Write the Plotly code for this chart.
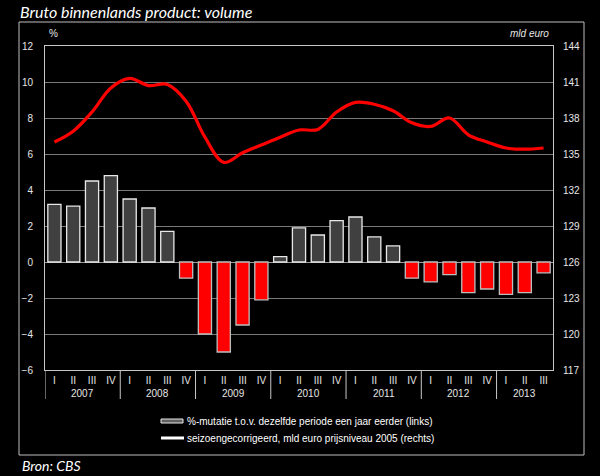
import plotly.graph_objects as go

# ---------------- data ----------------
years = ["2007", "2008", "2009", "2010", "2011", "2012", "2013"]
quarters = ["I", "II", "III", "IV"] * 6 + ["I", "II", "III"]
pct_change = [3.2, 3.1, 4.5, 4.8, 3.5, 3.0, 1.7, -0.9,
              -4.0, -5.0, -3.5, -2.1, 0.3, 1.9, 1.5, 2.3,
              2.5, 1.4, 0.9, -0.9, -1.1, -0.7, -1.7, -1.5,
              -1.8, -1.7, -0.6]
volume_bn = [136.0, 136.9, 138.5, 140.5, 141.3, 140.7, 140.8, 139.4,
             136.4, 134.3, 135.1, 135.75, 136.4, 137.0, 137.05, 138.5,
             139.3, 139.15, 138.6, 137.6, 137.3, 138.0, 136.6, 136.0,
             135.5, 135.4, 135.5]
left_ticks = [-6, -4, -2, 0, 2, 4, 6, 8, 10, 12]
right_ticks = [117, 120, 123, 126, 129, 132, 135, 138, 141, 144]

W, H = 600, 476
L, R, T, B = 45, 47, 46, 106
PW, PH = W - L - R, H - T - B


def px(x):
    return (x - L) / PW


def py(y):
    return (H - B - y) / PH


idx = list(range(len(pct_change)))
bar_colors = ["#404040" if v >= 0 else "#ff0000" for v in pct_change]
bar_lines = ["#e8e8e8" if v >= 0 else "#bdbdbd" for v in pct_change]

fig = go.Figure()
fig.add_trace(go.Bar(
    x=idx, y=pct_change, width=0.7,
    marker=dict(color=bar_colors, line=dict(color=bar_lines, width=1.3)),
    showlegend=False, yaxis="y",
))
fig.add_trace(go.Scatter(
    x=idx, y=volume_bn, mode="lines",
    line=dict(color="#ff0000", width=3.2, shape="spline", smoothing=1.0),
    showlegend=False, yaxis="y2",
))

tickfont = dict(family="Arial", size=10, color="#e6e6e6")

fig.update_layout(
    width=W, height=H,
    margin=dict(l=L, r=R, t=T, b=B),
    paper_bgcolor="black", plot_bgcolor="black",
    title=dict(text="<i>Bruto binnenlands product: volume</i>",
               font=dict(family="Lato", size=16, color="white"),
               x=20 / W, xanchor="left", xref="container",
               y=1 - 12 / H, yanchor="middle", yref="container"),
    xaxis=dict(range=[-0.5, len(idx) - 0.5], tickvals=idx, ticktext=quarters,
               showgrid=False, zeroline=False, ticks="", tickfont=tickfont,
               showline=True, linecolor="#c8c8c8", linewidth=1, mirror=True,
               ticklabelstandoff=1),
    yaxis=dict(range=[-6, 12], tickvals=left_ticks, showgrid=True,
               gridcolor="#7a7a7a", gridwidth=1, zeroline=True,
               zerolinecolor="#9a9a9a", zerolinewidth=1,
               tickfont=tickfont, ticks="", ticklabelstandoff=9,
               showline=True, linecolor="#c8c8c8", linewidth=1, mirror=True),
    yaxis2=dict(range=[117, 144], tickvals=right_ticks, overlaying="y",
                side="right", showgrid=False, zeroline=False,
                tickfont=tickfont, ticks="", ticklabelstandoff=9),
    bargap=0.3,
)

# outer frame
fig.add_shape(type="rect", xref="paper", yref="paper",
              x0=px(19), x1=px(584), y0=py(455), y1=py(22),
              line=dict(color="#bfbfbf", width=1))

# year dividers and labels
for k, yr in enumerate(years):
    pos = [i for i in idx if i // 4 == k]
    fig.add_shape(type="line", xref="x", yref="paper",
                  x0=pos[0] - 0.5, x1=pos[0] - 0.5, y0=py(370), y1=py(399),
                  line=dict(color="#c8c8c8", width=1))
    fig.add_annotation(x=sum(pos) / len(pos), xref="x", y=py(393), yref="paper",
                       text=yr, showarrow=False, font=tickfont,
                       xanchor="center", yanchor="middle")

# axis unit labels
fig.add_annotation(x=px(53), y=py(33), xref="paper", yref="paper", text="%",
                   showarrow=False, font=tickfont, xanchor="center", yanchor="middle")
fig.add_annotation(x=px(551), y=py(33), xref="paper", yref="paper", text="<i>mld euro</i>",
                   showarrow=False, font=tickfont, xanchor="right", yanchor="middle")

# custom legend
legfont = dict(family="Arial", size=10, color="white")
fig.add_shape(type="rect", xref="paper", yref="paper",
              x0=px(161), x1=px(183), y0=py(423), y1=py(419),
              fillcolor="#606060", line=dict(color="#e8e8e8", width=1))
fig.add_annotation(x=px(185), y=py(421), xref="paper", yref="paper",
                   text="%-mutatie t.o.v. dezelfde periode een jaar eerder (links)",
                   showarrow=False, font=legfont, xanchor="left", yanchor="middle")
fig.add_shape(type="line", xref="paper", yref="paper",
              x0=px(161), x1=px(184), y0=py(438), y1=py(438),
              line=dict(color="white", width=3))
fig.add_annotation(x=px(185), y=py(438), xref="paper", yref="paper",
                   text="seizoengecorrigeerd, mld euro prijsniveau 2005 (rechts)",
                   showarrow=False, font=legfont, xanchor="left", yanchor="middle")

# source
fig.add_annotation(x=px(20), y=py(465), xref="paper", yref="paper",
                   text="<i>Bron: CBS</i>", showarrow=False,
                   font=dict(family="Lato", size=14, color="white"),
                   xanchor="left", yanchor="middle")

fig.write_html("out.html", config={"displayModeBar": False},
               post_script="document.body.style.margin='0px';document.body.style.background='black';")
